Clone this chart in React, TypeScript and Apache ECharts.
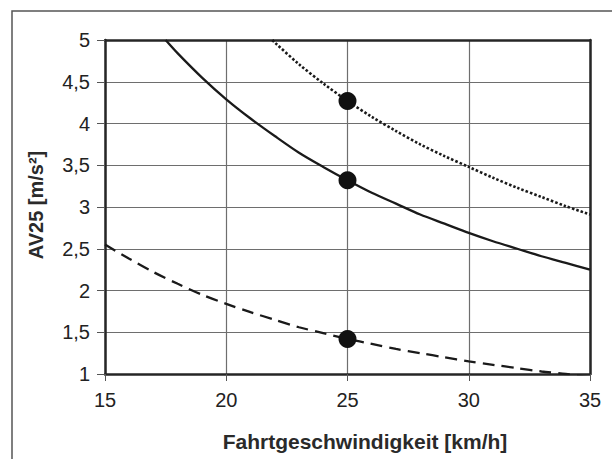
import React, { useEffect, useRef } from "react";
import * as echarts from "echarts";

const xSolid = [17.5, 18, 19, 20, 21, 22, 23, 24, 25, 26, 27, 28, 29, 30, 31, 32, 33, 34, 35];
const ySolid = [5.0, 4.84, 4.55, 4.29, 4.06, 3.85, 3.65, 3.48, 3.32, 3.17, 3.04, 2.91, 2.8, 2.69, 2.59, 2.5, 2.41, 2.33, 2.25];

const xDotted = [21.9, 22, 23, 24, 25, 26, 27, 28, 29, 30, 31, 32, 33, 34, 35];
const yDotted = [5.0, 4.97, 4.71, 4.48, 4.27, 4.08, 3.91, 3.75, 3.61, 3.48, 3.35, 3.23, 3.12, 3.01, 2.91];

const xDashed = [15, 16, 17, 18, 19, 20, 21, 22, 23, 24, 25, 26, 27, 28, 29, 30, 31, 32, 33, 34, 35];
const yDashed = [2.55, 2.38, 2.22, 2.08, 1.95, 1.84, 1.74, 1.65, 1.56, 1.49, 1.42, 1.36, 1.3, 1.25, 1.2, 1.15, 1.11, 1.07, 1.03, 1.0, 0.96];

const pointX = [25, 25, 25];
const pointY = [4.27, 3.32, 1.42];

const xTitle = "Fahrtgeschwindigkeit [km/h]";
const yTitle = "AV25 [m/s²]";

const FONT = "'Liberation Sans', Arial, Helvetica, sans-serif";

function pairs(xs: number[], ys: number[]) {
  return xs.map((x, i) => [x, ys[i]]);
}

export default function App() {
  const ref = useRef<HTMLDivElement>(null);
  useEffect(() => {
    if (!ref.current) return;
    const chart = echarts.init(ref.current, undefined, { renderer: "svg" });
    const lineColor = "#1a1a1a";
    const frame = { show: true, lineStyle: { color: "#262626", width: 2.5 } };
    chart.setOption({
      animation: false,
      backgroundColor: "#ffffff",
      grid: { left: 105, right: 22, top: 40, bottom: 85 },
      xAxis: [
        {
          type: "value",
          min: 15,
          max: 35,
          interval: 5,
          axisLine: frame,
          axisTick: { show: true, length: 7, lineStyle: { color: "#555", width: 1 } },
          axisLabel: { color: "#222", fontSize: 20, fontFamily: FONT, margin: 16 },
          splitLine: { show: true, lineStyle: { color: "#6e6e6e", width: 1.2 } },
        },
        {
          type: "value",
          position: "top",
          min: 15,
          max: 35,
          interval: 5,
          axisLine: frame,
          axisTick: { show: false },
          axisLabel: { show: false },
          splitLine: { show: false },
        },
      ],
      yAxis: [
        {
          type: "value",
          min: 1,
          max: 5,
          interval: 0.5,
          axisLine: frame,
          axisTick: { show: true, length: 8, lineStyle: { color: "#555", width: 1 } },
          axisLabel: {
            color: "#222",
            fontSize: 20,
            fontFamily: FONT,
            margin: 15,
            formatter: (v: number) => String(v).replace(".", ","),
          },
          splitLine: { show: true, lineStyle: { color: "#6e6e6e", width: 1.2 } },
        },
        {
          type: "value",
          position: "right",
          min: 1,
          max: 5,
          interval: 0.5,
          axisLine: frame,
          axisTick: { show: false },
          axisLabel: { show: false },
          splitLine: { show: false },
        },
      ],
      graphic: [
        {
          type: "rect",
          shape: { x: 12, y: 11, width: 620, height: 480 },
          style: { fill: "none", stroke: "#555", lineWidth: 1.5 },
          silent: true,
          z: -1,
        },
        {
          type: "text",
          x: 365,
          y: 441,
          style: {
            text: xTitle,
            fill: "#2a2a2a",
            font: `bold 21px ${FONT}`,
            align: "center",
            verticalAlign: "middle",
          },
        },
        {
          type: "text",
          x: 36,
          y: 205,
          rotation: Math.PI / 2,
          style: {
            text: yTitle,
            fill: "#2a2a2a",
            font: `bold 20px ${FONT}`,
            align: "center",
            verticalAlign: "middle",
          },
        },
      ],
      series: [
        {
          type: "line",
          data: pairs(xSolid, ySolid),
          smooth: 0.3,
          showSymbol: false,
          lineStyle: { color: lineColor, width: 2.3, type: "solid" },
          clip: true,
        },
        {
          type: "line",
          data: pairs(xDotted, yDotted),
          smooth: 0.3,
          showSymbol: false,
          lineStyle: { color: lineColor, width: 2.6, type: [2.5, 2] },
          clip: true,
        },
        {
          type: "line",
          data: pairs(xDashed, yDashed),
          smooth: 0.3,
          showSymbol: false,
          lineStyle: { color: lineColor, width: 2.3, type: [12, 7] },
          clip: true,
        },
        {
          type: "scatter",
          data: pairs(pointX, pointY),
          symbol: "circle",
          symbolSize: 18,
          itemStyle: { color: "#111", opacity: 1 },
          z: 5,
        },
      ],
    });
    return () => chart.dispose();
  }, []);
  return (
    <div
      ref={ref}
      style={{ position: "fixed", left: 0, top: 0, width: 612, height: 459 }}
    />
  );
}
